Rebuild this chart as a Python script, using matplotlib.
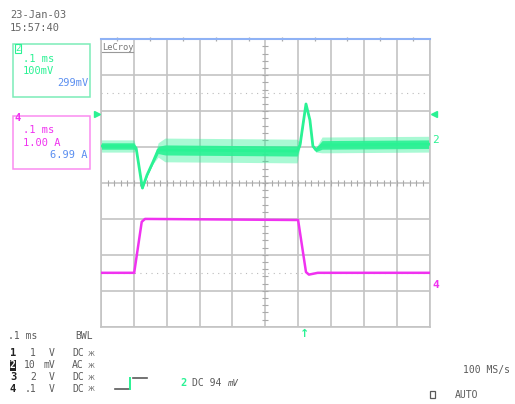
import matplotlib.pyplot as plt
import numpy as np

# channel 2 (green, 100 mV/div, AC) - time in ms, value in mV
ch2_t = [0.000, 0.100, 0.107, 0.126, 0.140, 0.158, 0.174, 0.195, 0.597, 0.606, 0.624, 0.636, 0.645, 0.654, 0.673, 0.998]
ch2_mv = [3, 3, -3, -114, -78, -42, -8, -8, -11, 6, 120, 75, 3, -8, 6, 8]
ch2_core = [9, 9, 3, 3, 3, 4, 10, 14, 14, 4, 3, 3, 3, 5, 12, 12]
ch2_peak = [17, 17, 3, 3, 3, 5, 20, 33, 33, 5, 3, 3, 3, 6, 22, 22]

# channel 4 (magenta, 1 A/div) - time in ms, current in A
ch4_t = [0.000, 0.101, 0.124, 0.134, 0.600, 0.624, 0.633, 0.660, 0.998]
ch4_a = [0.0, 0.0, 1.42, 1.50, 1.47, 0.02, -0.05, 0.0, 0.0]

# screen settings
ch2_scale, ch2_offset = 100.0, 1.0
ch4_scale, ch4_offset = 1.0, -2.5

date_text = ["23-Jan-03", "15:57:40"]
box2_text = [".1 ms", "100mV", "299mV"]
box4_text = [".1 ms", "1.00 A", "6.99 A"]
row_ch = ["1", "2", "3", "4"]
row_volts = ["1", "10", "2", ".1"]
row_units = ["V", "mV", "V", "V"]
row_coupling = ["DC", "AC", "DC", "DC"]

GREEN = "#2af294"
MAGENTA = "#f032f0"
BLUE = "#5b8ff0"
GRAY = "#5a5a5a"
GRID = "#c4c4c4"
MONO = "DejaVu Sans Mono"

W, H = 515, 404
fig = plt.figure(figsize=(W / 100, H / 100), dpi=100)

# scope grid: 10 x 8 divisions
gl, gr, gt, gb = 101, 429.5, 39.3, 326.7
ax = fig.add_axes([gl / W, 1 - gb / H, (gr - gl) / W, (gb - gt) / H])
ax.set_xlim(0, 1.0)
ax.set_ylim(-4, 4)
ax.set_xticks(np.arange(0, 1.01, 0.1))
ax.set_yticks(np.arange(-4, 4.1, 1))
ax.set_axisbelow(True)
ax.grid(True, color=GRID, lw=1.2, zorder=0)
ax.tick_params(length=0, labelbottom=False, labelleft=False)
for s in ["left", "right", "bottom"]:
    ax.spines[s].set_color(GRID)
    ax.spines[s].set_linewidth(1.2)
ax.spines["top"].set_color("#8fb2f5")
ax.spines["top"].set_linewidth(1.5)

# center cross ticks
ax.plot(np.arange(0.02, 1.0, 0.02), np.zeros(49), ls="none", marker="|", ms=4, mew=0.8, color="#aaaaaa", zorder=1)
ax.plot(np.full(39, 0.5), np.arange(-3.8, 3.9, 0.2), ls="none", marker="_", ms=4, mew=0.8, color="#aaaaaa", zorder=1)
ax.plot(np.arange(0.05, 1.0, 0.1), np.full(10, 4), ls="none", marker="|", ms=3, mew=0.9, color="#aaaaaa", clip_on=False)

# ground reference dotted lines
ax.axhline(2.5, color="#bbbbbb", lw=0.8, ls=(0, (1, 4)), zorder=1)
ax.axhline(ch4_offset, color="#bbbbbb", lw=0.8, ls=(0, (1, 4)), zorder=1)

# traces
t2 = np.array(ch2_t)
y2 = np.array(ch2_mv) / ch2_scale + ch2_offset
core = np.array(ch2_core) / ch2_scale
peak = np.array(ch2_peak) / ch2_scale
ax.fill_between(t2, y2 - peak, y2 + peak, color=GREEN, alpha=0.4, lw=0, zorder=2)
ax.fill_between(t2, y2 - core, y2 + core, color=GREEN, alpha=0.9, lw=0, zorder=2)
ax.plot(t2, y2, color=GREEN, lw=2, zorder=3)

y4 = np.array(ch4_a) / ch4_scale + ch4_offset
ax.plot(ch4_t, y4, color=MAGENTA, lw=1.8, zorder=3)

# overlay in pixel coordinates for the screen text
ov = fig.add_axes([0, 0, 1, 1], facecolor="none")
ov.set_xlim(0, W)
ov.set_ylim(H, 0)
ov.axis("off")

for i, s in enumerate(date_text):
    ov.text(10, 15 + i * 13, s, fontsize=7.5, family=MONO, color="#666666", va="center")

ov.text(102, 47, "LeCroy", fontsize=6.3, family=MONO, color="#777777", va="center")
ov.plot([102, 133], [51.5, 51.5], color="#999999", lw=0.8)

# channel boxes
ov.add_patch(plt.Rectangle((12.7, 44), 77.3, 52.7, fill=False, ec="#7cecb8", lw=1.1))
ov.text(18, 48.5, "2", fontsize=6.5, family=MONO, color=GREEN, ha="center", va="center",
        bbox=dict(boxstyle="square,pad=0.05", fc="white", ec=GREEN, lw=0.8))
ov.text(23, 58.5, box2_text[0], fontsize=7.5, family=MONO, color=GREEN, va="center")
ov.text(23, 70.5, box2_text[1], fontsize=7.5, family=MONO, color=GREEN, va="center")
ov.text(88, 83.5, box2_text[2], fontsize=7.5, family=MONO, color=BLUE, va="center", ha="right")

ov.add_patch(plt.Rectangle((12.7, 116), 77.3, 53, fill=False, ec="#fa8cf0", lw=1.1))
ov.text(18, 118, "4", fontsize=7.5, family=MONO, color=MAGENTA, ha="center", va="center", weight="bold")
ov.text(23, 130, box4_text[0], fontsize=7.5, family=MONO, color=MAGENTA, va="center")
ov.text(23, 142.5, box4_text[1], fontsize=7.5, family=MONO, color=MAGENTA, va="center")
ov.text(88, 155.5, box4_text[2], fontsize=7.5, family=MONO, color=BLUE, va="center", ha="right")

# trace markers
ov.plot(97, 114, marker=">", ms=4, color=GREEN, ls="none")
ov.plot(434, 114, marker="<", ms=4, color=GREEN, ls="none")
ov.text(432, 140, "2", fontsize=8, family=MONO, color=GREEN, va="center")
ov.text(432, 285, "4", fontsize=8, family=MONO, color=MAGENTA, va="center", weight="bold")
ov.text(305, 334, "↑", fontsize=8, color=GREEN, ha="center", va="center", weight="bold")

# bottom info
ov.text(8, 336, ".1 ms", fontsize=7, family=MONO, color=GRAY, va="center")
ov.text(75, 336, "BWL", fontsize=7, family=MONO, color=GRAY, va="center")
for i in range(4):
    y = 353.5 + i * 11.8
    if row_ch[i] == "2":
        ov.text(10, y, row_ch[i], fontsize=7, family=MONO, color="white", weight="bold", va="center",
                bbox=dict(boxstyle="square,pad=0.05", fc="#222222", ec="none"))
    else:
        ov.text(10, y, row_ch[i], fontsize=7.5, family=MONO, color="#222222", weight="bold", va="center")
    ov.text(36, y, row_volts[i], fontsize=7, family=MONO, color=GRAY, va="center", ha="right")
    ov.text(55, y, row_units[i], fontsize=7, family=MONO, color=GRAY, va="center", ha="right")
    ov.text(72, y, row_coupling[i], fontsize=7, family=MONO, color=GRAY, va="center")
    ov.text(88, y, "ж", fontsize=5.5, color="#777777", va="center")

# trigger step icon
ov.plot([115, 129], [389, 389], color=GRAY, lw=1.2)
ov.plot([130, 130], [389, 378], color=GREEN, lw=1.4)
ov.plot([133, 147], [378, 378], color=GRAY, lw=1.2)
ov.text(180, 383, "2", fontsize=7.5, family=MONO, color=GREEN, weight="bold", va="center")
ov.text(192, 383, "DC 94", fontsize=7, family=MONO, color=GRAY, va="center")
ov.text(227, 383, "mV", fontsize=6.5, family=MONO, color=GRAY, va="center", style="italic")

ov.text(463, 370, "100 MS/s", fontsize=7, family=MONO, color=GRAY, va="center")
ov.add_patch(plt.Rectangle((430, 391), 5, 7, fill=False, ec=GRAY, lw=0.9))
ov.text(455, 395, "AUTO", fontsize=7, family=MONO, color=GRAY, va="center")

fig.savefig("out.png", dpi=100, facecolor="white")
